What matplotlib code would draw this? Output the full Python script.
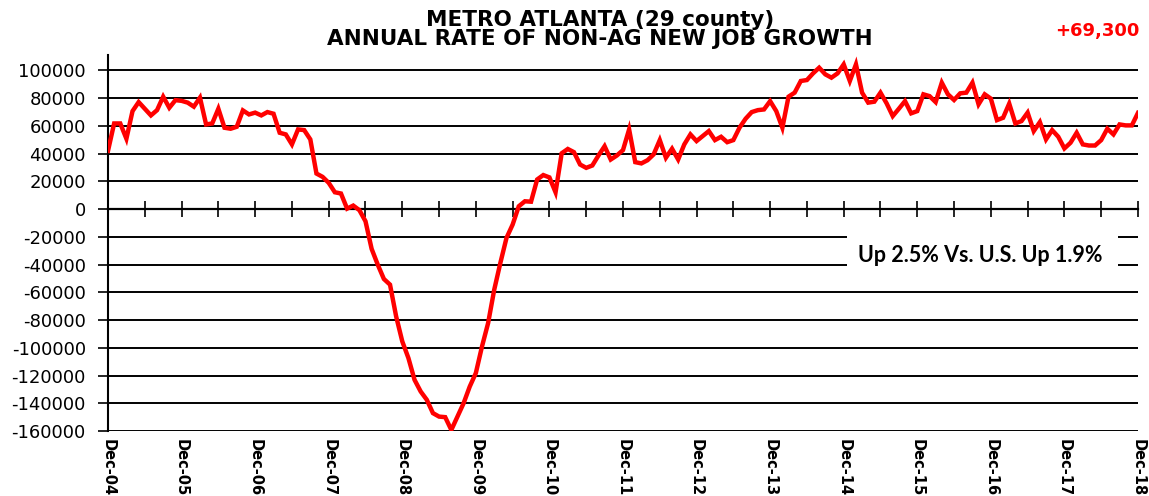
import matplotlib
matplotlib.use("Agg")
import matplotlib.pyplot as plt
from matplotlib.patches import Rectangle
import numpy as np

# monthly annual-rate job growth, Dec-04 .. Dec-18
jobs = [
    42000, 61700, 61700, 50700, 70600, 77100, 72300, 67500, 71300, 81000,
    73000, 78500, 78000, 76700, 73800, 80300, 61000, 61700, 72300, 58600,
    57900, 59300, 71100, 68200, 69500, 67500, 69900, 68700, 55000, 53800,
    46600, 57400, 56900, 50200, 25600, 23200, 18900, 12100, 11200, 300,
    2500, -800, -8800, -28700, -40100, -50400, -54500, -77400, -95400, -107400,
    -123100, -131500, -137500, -147100, -149600, -150000, -159200, -149600, -140000, -128000,
    -118200, -99100, -82200, -58100, -38800, -20800, -11200, 2000, 5600, 5300,
    21300, 24500, 22800, 12100, 40200, 43300, 41000, 32100, 29700, 31400,
    38600, 45300, 35700, 38600, 42500, 57400, 33800, 32900, 35200, 39400,
    49700, 37000, 43500, 35700, 46600, 53800, 49000, 52600, 56200, 49700,
    52100, 48200, 49700, 58600, 65100, 69900, 71300, 71800, 77800, 70600,
    58600, 81000, 83900, 92300, 93000, 97800, 101900, 97100, 94700, 97800,
    104300, 92300, 104300, 83900, 76700, 77400, 83900, 76200, 67000, 72300,
    77800, 69000, 70600, 82700, 81400, 77100, 91100, 82700, 78600, 83400,
    83900, 91100, 75500, 82700, 79600, 64100, 65800, 76000, 61700, 63400,
    69500, 56200, 62700, 50200, 56900, 52100, 43700, 47800, 55000, 46600,
    45800, 45800, 49700, 57900, 53800, 61000, 60300, 60300, 69300,
]
years = ['04', '05', '06', '07', '08', '09', '10', '11', '12', '13',
         '14', '15', '16', '17', '18']
year_labels = ['Dec-' + y for y in years]
y_ticks = list(range(-160000, 100001, 20000))

title = 'METRO ATLANTA (29 county)\nANNUAL RATE OF NON-AG NEW JOB GROWTH'
latest = '+69,300'
note = 'Up 2.5% Vs. U.S. Up 1.9%'

plt.rcParams['axes.unicode_minus'] = False

fig = plt.figure(figsize=(11.49, 4.96), dpi=100)
ax = fig.add_axes([0.094, 0.131, 0.8964, 0.758])

months = np.arange(len(jobs))
ax.plot(months, jobs, color='#ff0000', lw=3.2, zorder=5, solid_joinstyle='miter')

for v in y_ticks:
    if v != 0:
        ax.axhline(v, color='black', lw=1.4, zorder=1)

ax.set_xlim(0, len(jobs) - 1)
ax.set_ylim(-160000, 111000)

# y axis
ax.set_yticks(y_ticks)
ax.tick_params(axis='y', direction='out', length=7, width=1.2, labelsize=13, pad=9)
ax.spines['left'].set_linewidth(1.5)
ax.spines['right'].set_visible(False)
ax.spines['top'].set_visible(False)

# x axis line through zero with half-year ticks
ax.spines['bottom'].set_position(('data', 0))
ax.spines['bottom'].set_linewidth(1.6)
ax.set_xticks(np.arange(0, len(jobs), 6))
ax.tick_params(axis='x', direction='inout', length=12, width=1.2, labelbottom=False)

sec = ax.secondary_xaxis(0)
sec.set_xticks(np.arange(0, len(jobs), 12), year_labels)
sec.tick_params(length=0, pad=6)
sec.spines['bottom'].set_visible(False)
for lab in sec.get_xticklabels():
    lab.set_rotation(270)
    lab.set_fontweight('bold')
    lab.set_fontsize(10.5)
    lab.set_va('top')
    lab.set_ha('center')

# note box
ax.add_patch(Rectangle((0.7175, 0.40), 0.263, 0.145, transform=ax.transAxes,
                       facecolor='white', edgecolor='none', zorder=3))
ax.text(0.847, 0.468, note, transform=ax.transAxes, ha='center', va='center',
        fontsize=15.5, fontweight='bold', family=['Lato', 'DejaVu Sans'], zorder=4)

fig.text(0.522, 0.941, title, ha='center', va='center', fontsize=15.5,
         fontweight='bold', linespacing=0.95)
fig.text(0.955, 0.937, latest, ha='center', va='center', fontsize=13,
         fontweight='bold', color='#ff0000')

fig.savefig('out.png', dpi=100)
